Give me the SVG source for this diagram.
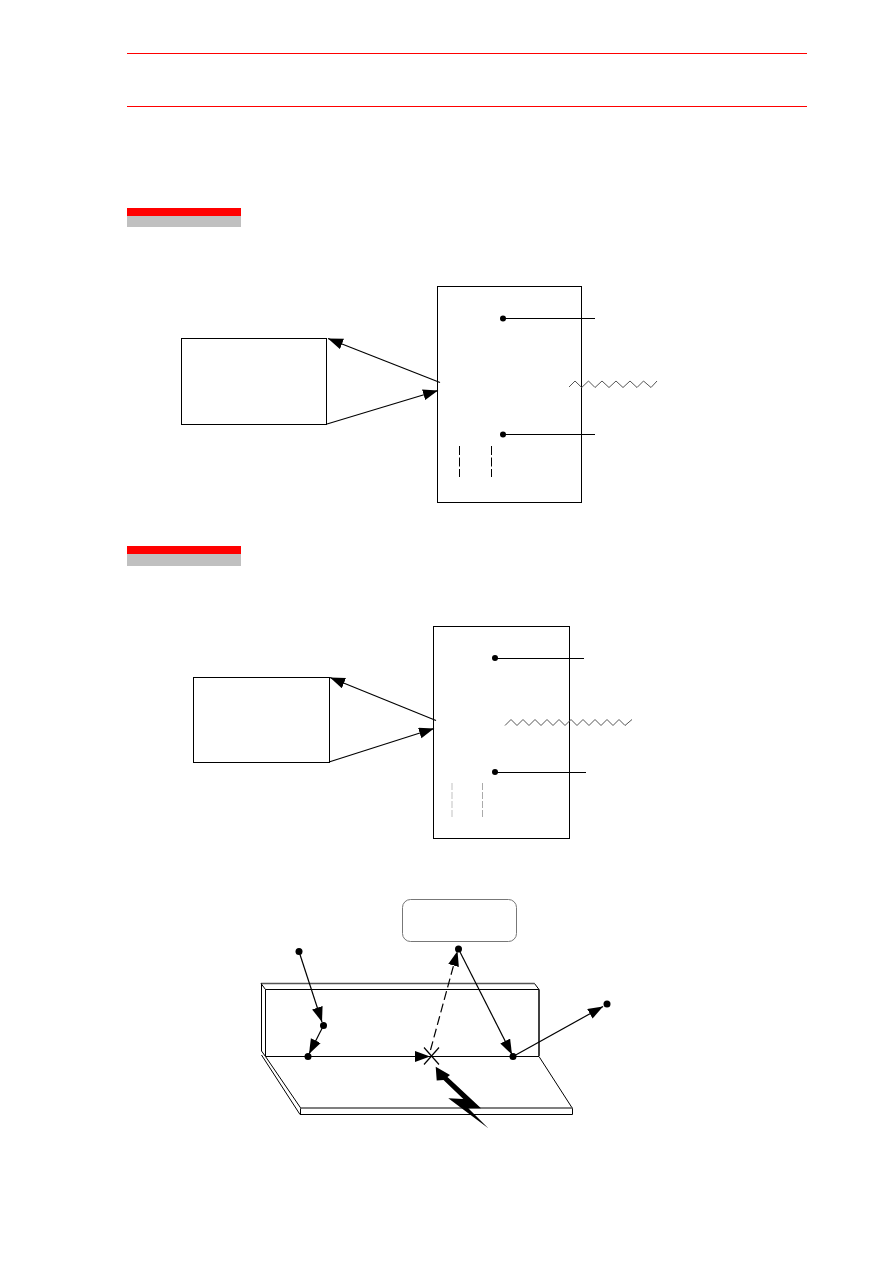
<svg xmlns="http://www.w3.org/2000/svg" width="893" height="1263" viewBox="0 0 893 1263">
  <style>
    .rule { stroke: #ff0000; stroke-width: 1; fill: none; }
    .box { fill: #ffffff; stroke: #000000; stroke-width: 1; }
    .wire { stroke: #000000; stroke-width: 1; fill: none; }
    .cross { stroke: #000000; stroke-width: 1.2; fill: none; }
    .edge { stroke: #555555; stroke-width: 1.5; fill: none; }
    .arrow { stroke: #000000; stroke-width: 1.2; fill: none; marker-end: url(#head); }
    .dashed-arrow { stroke: #000000; stroke-width: 1.2; fill: none; stroke-dasharray: 9 4; marker-end: url(#head); }
    .dash { stroke: #000000; stroke-width: 1; fill: none; stroke-dasharray: 9 2.5; }
    .wave { stroke: #555555; stroke-width: 1; fill: none; }
    .dot { fill: #000000; }
  </style>
  <defs>
    <marker id="head" markerUnits="userSpaceOnUse" markerWidth="16" markerHeight="12" refX="15" refY="5.5" orient="auto">
      <path d="M0,0 L15,5.5 L0,11 Z" fill="#000000"/>
    </marker>
  </defs>
  <rect width="893" height="1263" fill="#ffffff"/>

  <!-- page rules and section bars -->
  <g id="page-rules">
    <line class="rule" x1="127" y1="53.5" x2="807" y2="53.5"/>
    <line class="rule" x1="127" y1="106.5" x2="807" y2="106.5"/>
    <rect x="127" y="208" width="114" height="8" fill="#ff0000"/>
    <rect x="127" y="216" width="114" height="11" fill="#c0c0c0"/>
    <rect x="127" y="546" width="114" height="8" fill="#ff0000"/>
    <rect x="127" y="554" width="114" height="12" fill="#c0c0c0"/>
  </g>

  <!-- first figure -->
  <g id="source-a"><rect class="box" x="181.5" y="338.5" width="145" height="86"/></g>
  <g id="panel-a">
    <rect class="box" x="437.5" y="286.5" width="144" height="216"/>
    <circle class="dot" cx="503" cy="318.5" r="3"/>
    <circle class="dot" cx="503" cy="434.5" r="3"/>
    <line class="dash" x1="459.5" y1="446" x2="459.5" y2="477"/>
    <line class="dash" x1="491.5" y1="446" x2="491.5" y2="477"/>
  </g>
  <g id="connectors-a">
    <line class="arrow" x1="440" y1="382.5" x2="328" y2="338.5"/>
    <line class="arrow" x1="327" y1="424" x2="438" y2="390.5"/>
    <line class="wire" x1="503" y1="318.5" x2="595" y2="318.5"/>
    <line class="wire" x1="503" y1="434.5" x2="595" y2="434.5"/>
    <polyline class="wave" points="569,387 575,381 581.7,387.5 588.5,381 595,387.5 602,381 609,387.5 616,381 623,387.5 630,381 637,387.5 643.5,381 651,387.5 657,381"/>
  </g>

  <!-- second figure -->
  <g id="source-b"><rect class="box" x="193.5" y="677.5" width="136" height="85"/></g>
  <g id="panel-b">
    <rect class="box" x="433.5" y="626.5" width="136" height="212"/>
    <circle class="dot" cx="495" cy="658" r="3"/>
    <circle class="dot" cx="495" cy="772" r="3"/>
    <line x1="452" y1="783" x2="452" y2="817" stroke="#cccccc" stroke-width="1.2" stroke-dasharray="7 2"/>
    <line x1="482.5" y1="783" x2="482.5" y2="817" stroke="#aaaaaa" stroke-width="1" stroke-dasharray="7 2"/>
  </g>
  <g id="connectors-b">
    <line class="arrow" x1="436" y1="720.5" x2="330" y2="677.5"/>
    <line class="arrow" x1="329" y1="762" x2="434" y2="728.5"/>
    <line class="wire" x1="495" y1="658.5" x2="584" y2="658.5"/>
    <line class="wire" x1="495" y1="772.5" x2="586" y2="772.5"/>
    <polyline class="wave" points="505,725.5 511,719.5 517,725.5 523,719.5 529,725.5 535,719.5 541,725.5 547,719.5 553,725.5 559,719.5 565,725.5 571,719.5 577,725.5 583,719.5 589,725.5 595,719.5 601,725.5 607,719.5 613,725.5 619,719.5 625,725.5 632,719.5"/>
  </g>

  <!-- third figure: folded plate with reflected path -->
  <g id="plate">
    <line class="edge" x1="261" y1="983.5" x2="534.5" y2="983.5"/>
    <line class="wire" x1="534.5" y1="983.5" x2="539" y2="989.5"/>
    <line class="wire" x1="261" y1="983.5" x2="265.5" y2="989.5"/>
    <line class="wire" x1="265.5" y1="989.5" x2="539" y2="989.5"/>
    <line class="wire" x1="261.5" y1="983.5" x2="261.5" y2="1051"/>
    <line class="wire" x1="265.5" y1="989.5" x2="265.5" y2="1056"/>
    <line x1="539" y1="989.5" x2="539" y2="1056" stroke="#000000" stroke-width="1.5"/>
    <line class="wire" x1="265.5" y1="1056.5" x2="539" y2="1056.5"/>
    <line class="wire" x1="261.5" y1="1051" x2="265.5" y2="1056.5"/>
    <line class="wire" x1="261.5" y1="1055" x2="300" y2="1114.5"/>
    <line class="wire" x1="265.5" y1="1056.5" x2="301" y2="1108.5"/>
    <line class="wire" x1="539" y1="1056.5" x2="572.5" y2="1108.5"/>
    <line class="edge" x1="300.5" y1="1108" x2="572.5" y2="1108"/>
    <line class="wire" x1="300" y1="1114.5" x2="572.5" y2="1114.5"/>
    <line class="wire" x1="300.5" y1="1108.5" x2="300.5" y2="1114.5"/>
    <line class="wire" x1="572.5" y1="1108.5" x2="572.5" y2="1114.5"/>
  </g>
  <g id="label-box">
    <rect x="402.5" y="899.5" width="114" height="42" rx="8" ry="8" fill="#ffffff" stroke="#777777" stroke-width="1"/>
  </g>
  <g id="bolt">
    <polygon fill="#000000" points="435.7,1066.7 450,1075 447.5,1077 481,1108.3 468.3,1108.3 488.3,1128.3 448.3,1098.3 463.3,1099 443.5,1080 436.7,1080.5"/>
  </g>
  <g id="path-points">
    <circle class="dot" cx="299" cy="951.5" r="3.5"/>
    <circle class="dot" cx="323.5" cy="1025.5" r="3.5"/>
    <circle class="dot" cx="308" cy="1056.5" r="3.5"/>
    <circle class="dot" cx="458.5" cy="949" r="3.5"/>
    <circle class="dot" cx="513" cy="1056.5" r="3.5"/>
    <circle class="dot" cx="607" cy="1004" r="3.5"/>
  </g>
  <g id="connectors-c">
    <line class="arrow" x1="299" y1="951.5" x2="322" y2="1022"/>
    <line class="arrow" x1="323.5" y1="1025.5" x2="309" y2="1054"/>
    <line class="arrow" x1="308" y1="1056.5" x2="430" y2="1056.5"/>
    <line class="dashed-arrow" x1="430.5" y1="1050" x2="457.5" y2="951"/>
    <line class="arrow" x1="458.5" y1="949" x2="512" y2="1054.5"/>
    <line class="arrow" x1="513" y1="1056.5" x2="603" y2="1006.5"/>
    <line class="cross" x1="424" y1="1047.5" x2="439" y2="1064.5"/>
    <line class="cross" x1="439" y1="1047.5" x2="424" y2="1064.5"/>
  </g>
</svg>
